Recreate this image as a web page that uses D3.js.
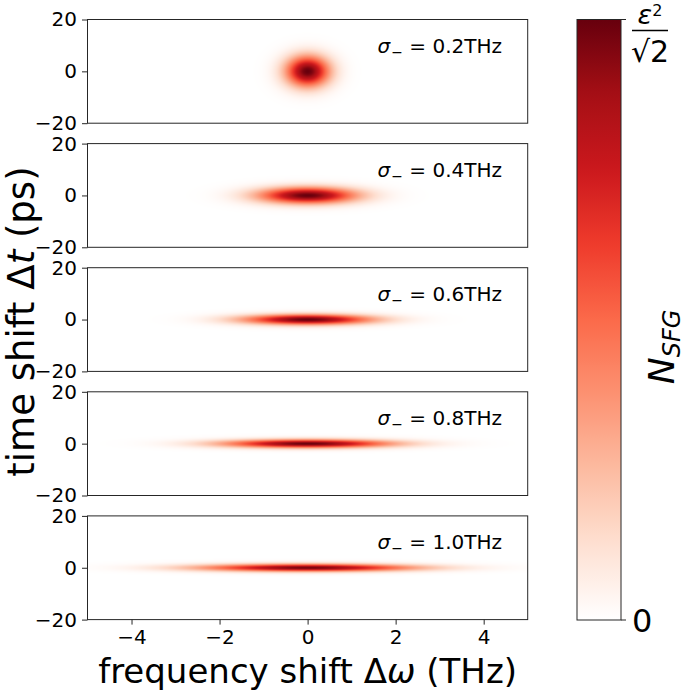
<!DOCTYPE html>
<html><head><meta charset="utf-8">
<script src="https://cdn.jsdelivr.net/npm/d3@7"></script>
<style>
body{margin:0;background:#fff}
svg{display:block}
text{font-family:"DejaVu Sans",sans-serif;fill:#000}
</style>
</head><body>
<svg id="chart" width="685" height="691"></svg>
<script>
// ---- data ----
const sigmaMinus = [0.2, 0.4, 0.6, 0.8, 1.0];            // THz, one per panel
const sigmaLabels = ["0.2THz", "0.4THz", "0.6THz", "0.8THz", "1.0THz"];
const freqStd = [0.34, 0.76, 1.0, 1.3, 1.65];            // THz, Gaussian width along Δω
const timeStd = [4.1, 2.15, 1.35, 1.1, 1.0];             // ps, Gaussian width along Δt
const peakValue = [1, 1, 1, 1, 0.97];                     // relative to ε²/√2
const xTicks = [-4, -2, 0, 2, 4];
const yTicks = [-20, 0, 20];
const xDomain = [-5, 5];
const yDomain = [-20, 20];
const redsStops = ["#ffffff","#fee0d2","#fcbba1","#fc9272","#fb6a4a","#ef3b2c","#cb181d","#a50f15","#67000d"];

// ---- layout ----
const svg = d3.select("#chart");
const left = 87.5, right = 527.7, top0 = 19.5, panelH = 103.7, step = 124.1;
const x = d3.scaleLinear().domain(xDomain).range([left, right]);
const color = d3.scaleLinear()
  .domain(redsStops.map((d, i) => i / (redsStops.length - 1)))
  .range(redsStops).interpolate(d3.interpolateRgb).clamp(true);

const fmt = d3.format("d");

sigmaMinus.forEach((s, i) => {
  const top = top0 + i * step, bottom = top + panelH;
  const y = d3.scaleLinear().domain(yDomain).range([bottom, top]);

  // heat image
  const cw = Math.round(right - left), ch = Math.round(panelH);
  const canvas = document.createElement("canvas");
  canvas.width = cw; canvas.height = ch;
  const ctx = canvas.getContext("2d");
  const img = ctx.createImageData(cw, ch);
  for (let py = 0; py < ch; py++) {
    const t = y.invert(top + (py + 0.5) * panelH / ch);
    for (let px = 0; px < cw; px++) {
      const w = x.invert(left + (px + 0.5) * (right - left) / cw);
      const v = peakValue[i] * Math.exp(-(w * w) / (2 * freqStd[i] ** 2) - (t * t) / (2 * timeStd[i] ** 2));
      const c = d3.rgb(color(v));
      const k = (py * cw + px) * 4;
      img.data[k] = c.r; img.data[k + 1] = c.g; img.data[k + 2] = c.b; img.data[k + 3] = 255;
    }
  }
  ctx.putImageData(img, 0, 0);
  svg.append("image")
    .attr("href", canvas.toDataURL())
    .attr("x", left).attr("y", top)
    .attr("width", right - left).attr("height", panelH)
    .attr("preserveAspectRatio", "none");

  // frame
  svg.append("rect")
    .attr("x", left).attr("y", top)
    .attr("width", right - left).attr("height", panelH)
    .attr("fill", "none").attr("stroke", "#262626").attr("stroke-width", 1);

  // y axis
  const ya = svg.append("g").attr("transform", `translate(${left},0)`)
    .call(d3.axisLeft(y).tickValues(yTicks).tickSize(5.5).tickPadding(5).tickFormat(fmt));
  ya.select(".domain").remove();
  ya.selectAll("line").attr("stroke", "#262626");
  ya.selectAll("text").style("font-size", "20px").attr("fill", "#000").style("font-family", "DejaVu Sans");

  // x axis on bottom panel only
  if (i === sigmaMinus.length - 1) {
    const xa = svg.append("g").attr("transform", `translate(0,${bottom})`)
      .call(d3.axisBottom(x).tickValues(xTicks).tickSize(5).tickPadding(5).tickFormat(fmt));
    xa.select(".domain").remove();
    xa.selectAll("line").attr("stroke", "#262626");
    xa.selectAll("text").style("font-size", "20px").attr("fill", "#000").style("font-family", "DejaVu Sans");
  }

  // sigma label
  const lab = svg.append("text")
    .attr("x", 502).attr("y", top + 33.5)
    .attr("text-anchor", "end").style("font-size", "20px");
  lab.append("tspan").style("font-style", "italic").text("σ");
  lab.append("tspan").attr("dy", 4).attr("dx", 1).style("font-size", "14px").text("−");
  lab.append("tspan").attr("dy", -4).text(" = " + sigmaLabels[i]);
});

// axis titles
const yl = svg.append("text")
  .attr("transform", `translate(34,${top0 + (4 * step + panelH) / 2 + 2}) rotate(-90)`)
  .attr("text-anchor", "middle").style("font-size", "37px");
yl.append("tspan").text("time shift Δ");
yl.append("tspan").style("font-style", "italic").text("t");
yl.append("tspan").text(" (ps)");

const xl = svg.append("text")
  .attr("x", (left + right) / 2).attr("y", 683)
  .attr("text-anchor", "middle").style("font-size", "34px");
xl.append("tspan").text("frequency shift Δ");
xl.append("tspan").style("font-style", "italic").text("ω");
xl.append("tspan").text(" (THz)");

// ---- colorbar ----
const cbX = 577, cbW = 44, cbTop = 19.5, cbBottom = 620;
const cbScale = d3.scaleLinear().domain([0, 1]).range([cbBottom, cbTop]);
const defs = svg.append("defs");
const grad = defs.append("linearGradient").attr("id", "cbgrad")
  .attr("x1", 0).attr("y1", 1).attr("x2", 0).attr("y2", 0);
d3.range(0, 1.0001, 0.02).forEach(v => {
  grad.append("stop").attr("offset", v).attr("stop-color", color(v));
});
svg.append("rect").attr("x", cbX).attr("y", cbTop)
  .attr("width", cbW).attr("height", cbBottom - cbTop)
  .attr("fill", "url(#cbgrad)").attr("stroke", "#262626").attr("stroke-width", 1);
[0, 1].forEach(v => {
  svg.append("line").attr("x1", cbX + cbW).attr("x2", cbX + cbW + 5)
    .attr("y1", cbScale(v)).attr("y2", cbScale(v)).attr("stroke", "#262626");
});
svg.append("text").attr("x", 632).attr("y", cbScale(0)).attr("dy", "0.36em")
  .style("font-size", "32px").text("0");

// top tick label: ε² / √2
const fx = 650;
const num = svg.append("text").attr("x", fx).attr("y", 24).attr("text-anchor", "middle").style("font-size", "27px");
num.append("tspan").style("font-style", "italic").text("ε");
num.append("tspan").attr("dy", -8).style("font-size", "16px").text("2");
svg.append("line").attr("x1", 632).attr("x2", 668).attr("y1", 30.5).attr("y2", 30.5)
  .attr("stroke", "#000").attr("stroke-width", 1.6);
svg.append("text").attr("x", fx).attr("y", 62).attr("text-anchor", "middle")
  .style("font-size", "30px").text("√2");

// colorbar label N_SFG
const cl = svg.append("text")
  .attr("transform", `translate(674,347) rotate(-90)`)
  .attr("text-anchor", "middle").style("font-size", "36px");
cl.append("tspan").style("font-style", "italic").text("N");
cl.append("tspan").attr("dy", 6).style("font-size", "24px").style("font-style", "italic").text("SFG");
</script>
</body></html>
